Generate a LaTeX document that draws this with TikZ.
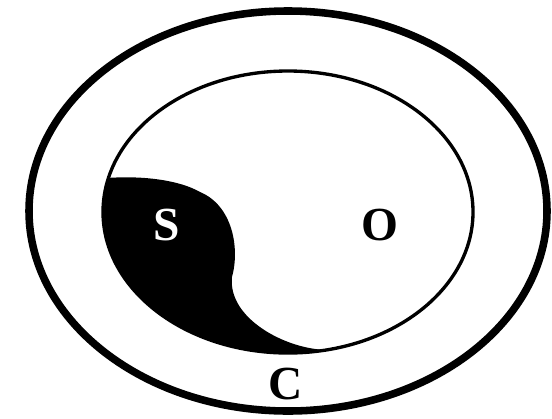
\documentclass[tikz,border=0pt]{standalone}
\usepackage{fontspec}
\setmainfont{Liberation Serif}
\tikzset{
  outerring/.style={draw=black, line width=4.3pt},
  innerring/.style={draw=black, line width=1.9pt},
  selfpart/.style={fill=black},
  ringlabel/.style={font=\fontsize{27}{27}\bfseries\selectfont, inner sep=0pt},
}

\begin{document}
\begin{tikzpicture}
\useasboundingbox (0,0) rectangle (11.04,8.36);
\coordinate (mid) at (5.76,4.12);
\draw[outerring] (5.76,4.14) ellipse [x radius=5.18, y radius=4.0];
\fill[selfpart] (mid) ++(166:3.7 and 2.82) coordinate (head)
  arc[start angle=166, end angle=282, x radius=3.7, y radius=2.82]
  .. controls (5.70,1.38) and (4.55,2.00) .. (4.64,2.82)
  .. controls (4.80,3.40) and (4.65,4.25) .. (4.00,4.52)
  .. controls (3.60,4.75) and (2.90,4.85) .. (head) -- cycle;
\draw[innerring] (mid) ellipse [x radius=3.7, y radius=2.82];
\node[ringlabel, text=white] (S) at (3.34,3.86) {S};
\node[ringlabel] (O) at (7.60,3.86) {O};
\node[ringlabel] (C) at (5.72,0.68) {C};
\end{tikzpicture}
\end{document}
